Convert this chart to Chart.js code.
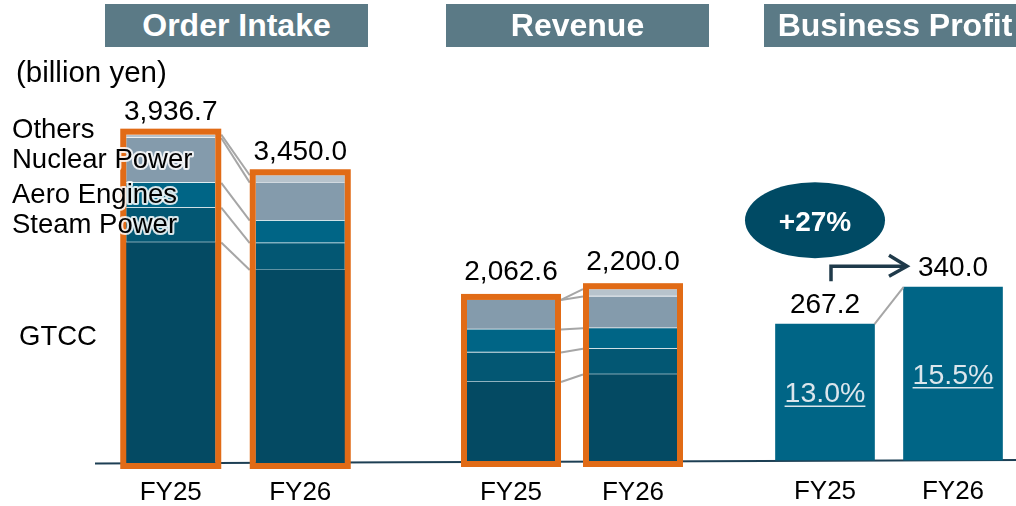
<!DOCTYPE html>
<html>
<head>
<meta charset="utf-8">
<script src="https://cdn.jsdelivr.net/npm/chart.js@4.4.1/dist/chart.umd.min.js"></script>
<style>
    html, body { margin: 0; padding: 0; background: #fff; overflow: hidden; }
    #lienzo { position: relative; width: 1016px; height: 506px; overflow: hidden; font-family: "Liberation Sans", Arial, sans-serif; }
    #lienzo canvas { position: absolute; top: 0; }
    .titulo { position: absolute; top: 4px; height: 43px; line-height: 43px; background: #5b7a86; color: #fff; font-weight: bold; font-size: 32px; text-align: center; white-space: nowrap; }
    #unidad { position: absolute; left: 16px; top: 58px; font-size: 29.5px; line-height: 28px; color: #000; }
</style>
</head>
<body>
<div id="lienzo">
    <canvas id="chartPedidos" width="400" height="506" style="left:0px"></canvas>
    <canvas id="chartIngresos" width="320" height="506" style="left:400px"></canvas>
    <canvas id="chartBeneficio" width="320" height="506" style="left:700px"></canvas>
    <div class="titulo" style="left:105px;width:263px">Order Intake</div>
    <div class="titulo" style="left:446px;width:263px">Revenue</div>
    <div class="titulo" style="left:764px;width:262px">Business Profit</div>
    <div id="unidad">(billion yen)</div>
</div>
<script>
// --- DATOS (billion yen) ---
const anios = ['FY25', 'FY26'];
const segmentos = ['GTCC', 'Steam Power', 'Aero Engines', 'Nuclear Power', 'Others'];

// Order Intake
const pedidosGTCC = [2643.7, 2313.0];
const pedidosSteam = [418.0, 323.0];
const pedidosAero = [298.0, 270.0];
const pedidosNuclear = [537.0, 456.0];
const pedidosOthers = [40.0, 88.0];
const pedidosTotal = [3936.7, 3450.0];

// Revenue
const ingresosGTCC = [1011.6, 1108.0];
const ingresosSteam = [378.0, 330.0];
const ingresosAero = [295.0, 263.0];
const ingresosNuclear = [378.0, 406.0];
const ingresosOthers = [0.0, 93.0];
const ingresosTotal = [2062.6, 2200.0];

// Business Profit
const beneficio = [267.2, 340.0];
const margen = ['13.0%', '15.5%'];
const crecimiento = '+27%';

const familia = '"Liberation Sans", Arial, sans-serif';
const coloresSegmentos = ['#044a63', '#035773', '#006586', '#849bac', '#b7c3cc'];

function formato(v) {
    return v.toLocaleString('en-US', { minimumFractionDigits: 1, maximumFractionDigits: 1 });
}

// linea base comun (en la original esta un poco inclinada)
function yLineaBase(xGlobal) {
    return 463.5 - (xGlobal - 95) * 0.0038;
}

const pluginLineaBase = {
    id: 'lineaBase',
    beforeDatasetsDraw(chart, args, opts) {
        const ctx = chart.ctx;
        const desde = opts.desde || 0;
        const hasta = opts.hasta || chart.width;
        ctx.save();
        ctx.strokeStyle = '#1d3f54';
        ctx.lineWidth = 2;
        ctx.beginPath();
        ctx.moveTo(desde, yLineaBase(desde + opts.offset));
        ctx.lineTo(hasta, yLineaBase(hasta + opts.offset));
        ctx.stroke();
        ctx.restore();
    }
};

function textoConHalo(ctx, texto, x, y) {
    ctx.save();
    ctx.lineJoin = 'round';
    ctx.strokeStyle = 'rgba(255,255,255,0.85)';
    ctx.lineWidth = 4;
    ctx.strokeText(texto, x, y);
    ctx.fillStyle = '#000';
    ctx.fillText(texto, x, y);
    ctx.restore();
}

const pluginApilado = {
    id: 'apilado',
    afterDatasetsDraw(chart, args, opts) {
        const ctx = chart.ctx;
        const metas = chart.data.datasets.map((d, i) => chart.getDatasetMeta(i));
        const cajas = chart.data.labels.map((l, j) => {
            const abajo = metas[0].data[j];
            const arriba = metas[metas.length - 1].data[j];
            return {
                x: abajo.x,
                izq: abajo.x - abajo.width / 2,
                der: abajo.x + abajo.width / 2,
                arriba: arriba.y,
                abajo: abajo.base,
                cortes: metas.map(m => m.data[j].y)
            };
        });

        ctx.save();
        // conectores grises entre FY25 y FY26
        ctx.strokeStyle = '#a6a6a6';
        ctx.lineWidth = 2;
        for (let k = 0; k < metas.length; k++) {
            ctx.beginPath();
            ctx.moveTo(cajas[0].der + 6, cajas[0].cortes[k]);
            ctx.lineTo(cajas[1].izq - 6, cajas[1].cortes[k]);
            ctx.stroke();
        }

        // marcos naranjas
        ctx.strokeStyle = '#e16b16';
        ctx.lineWidth = 6;
        cajas.forEach(c => {
            ctx.strokeRect(c.izq - 3, c.arriba - 3, (c.der - c.izq) + 6, (c.abajo - c.arriba) + 6);
        });

        // totales
        ctx.fillStyle = '#000';
        ctx.font = '28px ' + familia;
        ctx.textAlign = 'center';
        ctx.textBaseline = 'alphabetic';
        cajas.forEach((c, j) => ctx.fillText(formato(opts.totales[j]), c.x, c.arriba - opts.separacion));

        // nombres de segmentos a la izquierda
        if (opts.nombres) {
            ctx.font = '27.5px ' + familia;
            ctx.textAlign = 'left';
            const ajustes = [-7.5, 7.5, 7.5, 7.5, 1.5];
            metas.forEach((m, i) => {
                const el = m.data[0];
                const yMedio = (el.y + el.base) / 2;
                const x = i === 0 ? 19 : 12;
                textoConHalo(ctx, chart.data.datasets[i].label, x, yMedio + ajustes[i]);
            });
        }
        ctx.restore();
    }
};

const pluginBeneficio = {
    id: 'beneficio',
    afterDatasetsDraw(chart) {
        const ctx = chart.ctx;
        const barras = chart.getDatasetMeta(0).data;
        const b0 = barras[0];
        const b1 = barras[1];
        ctx.save();

        // conector gris
        ctx.strokeStyle = '#a6a6a6';
        ctx.lineWidth = 2;
        ctx.beginPath();
        ctx.moveTo(b0.x + b0.width / 2, b0.y);
        ctx.lineTo(b1.x - b1.width / 2, b1.y);
        ctx.stroke();

        // valores
        ctx.fillStyle = '#000';
        ctx.font = '28px ' + familia;
        ctx.textAlign = 'center';
        ctx.textBaseline = 'alphabetic';
        barras.forEach((b, j) => ctx.fillText(formato(beneficio[j]), b.x, b.y - 11));

        // margen (subrayado)
        ctx.font = '28.5px ' + familia;
        ctx.fillStyle = '#dce6ec';
        ctx.strokeStyle = '#dce6ec';
        ctx.lineWidth = 1.5;
        barras.forEach((b, j) => {
            const yTexto = (b.y + b.base) / 2 + 10;
            ctx.fillText(margen[j], b.x, yTexto);
            const w = ctx.measureText(margen[j]).width;
            ctx.beginPath();
            ctx.moveTo(b.x - w / 2, yTexto + 4);
            ctx.lineTo(b.x + w / 2, yTexto + 4);
            ctx.stroke();
        });

        // flecha
        const yFlecha = b0.y - 58;
        ctx.strokeStyle = '#1f3a4a';
        ctx.lineWidth = 3.5;
        ctx.beginPath();
        ctx.moveTo(b0.x + 6, b0.y - 43);
        ctx.lineTo(b0.x + 6, yFlecha);
        ctx.lineTo(b1.x - 46, yFlecha);
        ctx.stroke();
        ctx.beginPath();
        ctx.moveTo(b1.x - 64, yFlecha - 11);
        ctx.lineTo(b1.x - 46, yFlecha);
        ctx.lineTo(b1.x - 64, yFlecha + 10);
        ctx.stroke();

        // elipse con el crecimiento
        ctx.fillStyle = '#004a64';
        ctx.beginPath();
        ctx.ellipse(b0.x - 10, b0.y - 104, 70, 38, 0, 0, Math.PI * 2);
        ctx.fill();
        ctx.fillStyle = '#fff';
        ctx.font = 'bold 28px ' + familia;
        ctx.fillText(crecimiento, b0.x - 10, b0.y - 93);
        ctx.restore();
    }
};

function ejeX(relleno) {
    return {
        stacked: true,
        grid: { display: false, drawTicks: false },
        border: { display: false },
        ticks: { color: '#000', font: { size: 26, family: familia }, padding: relleno },
        afterFit: function(scale) { scale.height = 43; }
    };
}

function renderizarGraficoApilado(idCanvas, series, cfg) {
    const ctx = document.getElementById(idCanvas);
    new Chart(ctx, {
        type: 'bar',
        data: {
            labels: anios,
            datasets: series.map((datos, i) => ({
                label: segmentos[i],
                data: datos,
                backgroundColor: coloresSegmentos[i],
                borderColor: 'rgba(255,255,255,0.1)',
                borderWidth: i === 0 ? 0 : { top: 0, right: 0, bottom: 1, left: 0 },
                borderSkipped: false,
                barThickness: cfg.grosor
            }))
        },
        options: {
            responsive: false,
            animation: false,
            layout: { padding: cfg.padding },
            scales: {
                x: ejeX(cfg.relleno),
                y: { stacked: true, display: false, min: 0, max: cfg.max }
            },
            plugins: {
                legend: { display: false },
                tooltip: { enabled: false },
                lineaBase: { offset: cfg.offset, desde: cfg.desde, hasta: cfg.hasta },
                apilado: { totales: cfg.totales, separacion: cfg.separacion, nombres: cfg.nombres }
            }
        },
        plugins: [pluginLineaBase, pluginApilado]
    });
}

function renderizarGraficoBeneficio() {
    const ctx = document.getElementById('chartBeneficio');
    new Chart(ctx, {
        type: 'bar',
        data: {
            labels: anios,
            datasets: [{
                label: 'Business Profit',
                data: beneficio,
                backgroundColor: '#006586',
                borderWidth: 0,
                barThickness: 99
            }]
        },
        options: {
            responsive: false,
            animation: false,
            layout: { padding: { left: 61, right: 3, top: 60, bottom: 2.5 } },
            scales: {
                x: ejeX(16),
                y: { display: false, min: 0, max: 785 }
            },
            plugins: {
                legend: { display: false },
                tooltip: { enabled: false },
                lineaBase: { offset: 700, desde: 0 }
            }
        },
        plugins: [pluginLineaBase, pluginBeneficio]
    });
}

renderizarGraficoApilado('chartPedidos',
    [pedidosGTCC, pedidosSteam, pedidosAero, pedidosNuclear, pedidosOthers], {
        grosor: 89,
        padding: { left: 106, right: 35, top: 60, bottom: 0 },
        relleno: 14,
        max: 4832,
        totales: pedidosTotal,
        separacion: 15,
        nombres: true,
        offset: 0,
        desde: 95,
        hasta: 400
    });

renderizarGraficoApilado('chartIngresos',
    [ingresosGTCC, ingresosSteam, ingresosAero, ingresosNuclear, ingresosOthers], {
        grosor: 88,
        padding: { left: 50, right: 26, top: 60, bottom: 2 },
        relleno: 16,
        max: 5135,
        totales: ingresosTotal,
        separacion: 19.5,
        nombres: false,
        offset: 400,
        desde: 0,
        hasta: 300
    });

renderizarGraficoBeneficio();
</script>
</body>
</html>
